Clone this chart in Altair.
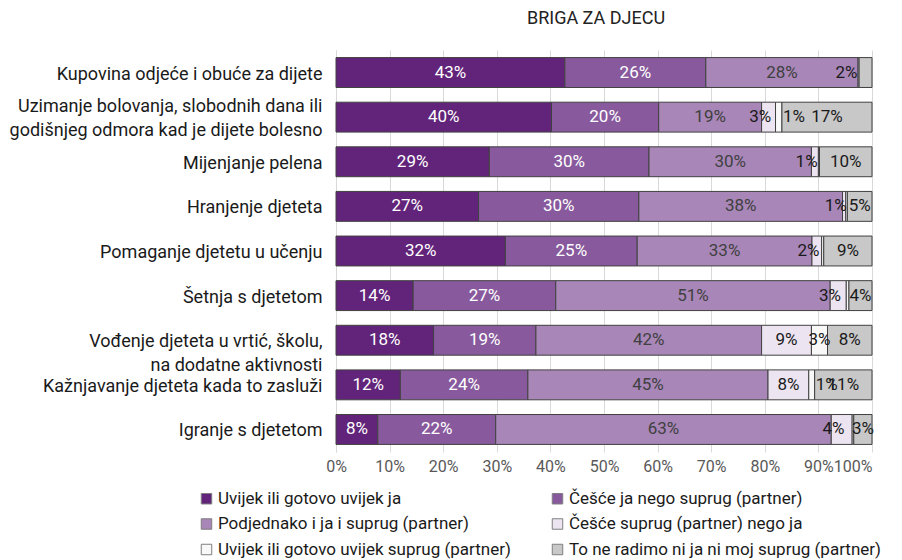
import altair as alt
import pandas as pd

tasks = [
    "Kupovina odjeće i obuće za dijete",
    "Uzimanje bolovanja, slobodnih dana ili\ngodišnjeg odmora kad je dijete bolesno",
    "Mijenjanje pelena",
    "Hranjenje djeteta",
    "Pomaganje djetetu u učenju",
    "Šetnja s djetetom",
    "Vođenje djeteta u vrtić, školu,\nna dodatne aktivnosti",
    "Kažnjavanje djeteta kada to zasluži",
    "Igranje s djetetom",
]

categories = [
    "Uvijek ili gotovo uvijek ja",
    "Češće ja nego suprug (partner)",
    "Podjednako i ja i suprug (partner)",
    "Češće suprug (partner) nego ja",
    "Uvijek ili gotovo uvijek suprug (partner)",
    "To ne radimo ni ja ni moj suprug (partner)",
]

uvijek_ja = [42.7, 40.2, 28.6, 26.6, 31.6, 14.4, 18.2, 12.0, 7.8]
cesce_ja = [26.3, 20.0, 29.8, 29.9, 24.6, 26.6, 19.1, 23.8, 22.0]
podjednako = [28.4, 19.2, 30.3, 38.0, 32.6, 51.2, 42.1, 44.8, 62.6]
cesce_suprug = [0.2, 2.6, 1.3, 0.6, 1.8, 3.0, 9.3, 7.6, 3.9]
uvijek_suprug = [0.0, 1.2, 0.2, 0.3, 0.4, 0.5, 3.0, 1.1, 0.3]
ne_radimo = [2.4, 16.8, 9.8, 4.6, 9.0, 4.3, 8.3, 10.7, 3.4]

colors = ["#62247A", "#885A9D", "#A886B8", "#ECE4F1", "#F8F8F8", "#C8C8C8"]

series = [uvijek_ja, cesce_ja, podjednako, cesce_suprug, uvijek_suprug, ne_radimo]
rows = []
for ci, (cat, vals) in enumerate(zip(categories, series)):
    for ti, (task, v) in enumerate(zip(tasks, vals)):
        rows.append({"task": task, "ti": ti, "cat": cat, "ci": ci, "v": v})
df = pd.DataFrame(rows)

# legend lays entries out column by column; order them so they read row by row
legend_order = [categories[i] for i in (0, 2, 4, 1, 3, 5)]
legend_colors = [colors[i] for i in (0, 2, 4, 1, 3, 5)]

FONT = "Roboto"

base = (
    alt.Chart(df)
    .transform_stack(stack="v", as_=["x0", "x1"], groupby=["task"],
                     sort=[alt.SortField("ci", order="ascending")])
    .transform_calculate(
        mid="(datum.x0 + datum.x1) / 2",
        lab="round(datum.v) + '%'",
        tcol="datum.ci < 2 ? 'white' : (datum.ci == 2 ? '#404040' : '#1a1a1a')",
    )
)

y_enc = alt.Y(
    "task:N",
    sort=tasks,
    title=None,
    scale=alt.Scale(paddingInner=0.33, paddingOuter=0.17),
    axis=alt.Axis(
        labelExpr="split(datum.label, '\\n')",
        labelFontSize=18,
        labelColor="#1a1a1a",
        labelFont=FONT,
        labelLineHeight=24,
        labelPadding=14,
        labelLimit=400,
        labelOffset={"condition": {"test": "indexof(datum.label, 'Uzimanje') == 0", "value": -10}, "value": 2},
        ticks=False,
        domainColor="#d9d9d9",
        grid=False,
    ),
)

bars = base.transform_filter("datum.v > 0").mark_bar(
    stroke="#404040", strokeWidth=1
).encode(
    x=alt.X(
        "x0:Q",
        title=None,
        scale=alt.Scale(domain=[0, 100], nice=False),
        axis=alt.Axis(
            values=[0, 10, 20, 30, 40, 50, 60, 70, 80, 90, 100],
            labelExpr="datum.value + '%'",
            labelFontSize=16,
            labelColor="#595959",
            labelFont=FONT,
            labelAlign={"condition": {"test": "datum.value == 100", "value": "right"}, "value": "center"},
            ticks=False,
            domain=False,
            gridColor="#d9d9d9",
            labelPadding=6,
        ),
    ),
    x2="x1:Q",
    y=y_enc,
    color=alt.Color(
        "cat:N",
        scale=alt.Scale(domain=legend_order, range=legend_colors),
        legend=alt.Legend(
            title=None,
            orient="none",
            legendX=-138,
            legendY=440,
            columns=2,
            symbolType="square",
            symbolSize=110,
            symbolStrokeColor="#7f7f7f",
            symbolStrokeWidth=1,
            labelFontSize=17,
            labelFont=FONT,
            labelColor="#1a1a1a",
            labelLimit=400,
            rowPadding=7.5,
            columnPadding=19,
            symbolOffset=0,
            labelOffset=3,
            gridAlign="all",
        ),
    ),
)

text_center = base.transform_filter(
    "(datum.ci <= 2) || (datum.ci == 3 && datum.v >= 5) || (datum.ci == 4 && datum.v >= 2) || (datum.ci == 5 && datum.v >= 3)"
).mark_text(fontSize=17, font=FONT, align="center", baseline="middle").encode(
    x="mid:Q", y=alt.Y("task:N", sort=tasks), text="lab:N",
    color=alt.Color("tcol:N", scale=None),
)

text_right = base.transform_filter(
    "(datum.ci == 3 && datum.v >= 0.6 && datum.v < 5) || (datum.ci == 5 && datum.v < 3)"
).transform_calculate(
    px="datum.ci == 5 ? datum.x0 - 0.3 : datum.mid + 0.5"
).mark_text(fontSize=17, font=FONT, align="right", baseline="middle").encode(
    x="px:Q", y=alt.Y("task:N", sort=tasks), text="lab:N",
    color=alt.Color("tcol:N", scale=None),
)

text_left = base.transform_filter(
    "datum.ci == 4 && datum.v >= 0.6 && datum.v < 2"
).mark_text(fontSize=17, font=FONT, align="left", baseline="middle", dx=1).encode(
    x="x1:Q", y=alt.Y("task:N", sort=tasks), text="lab:N",
    color=alt.Color("tcol:N", scale=None),
)

chart = (
    alt.layer(bars, text_center, text_right, text_left)
    .resolve_scale(color="independent")
    .properties(
        width=536,
        height=402,
        autosize=alt.AutoSizeParams(type="none"),
        padding={"left": 328, "top": 42, "right": 22, "bottom": 108},
        title=alt.TitleParams(
            "BRIGA ZA DJECU", fontSize=18, font=FONT, fontWeight="normal",
            color="#222222", anchor="middle", offset=22, dx=-8,
        ),
    )
    .configure_view(stroke=None)
)

chart.save("out.html", embed_options={"renderer": "svg", "actions": False})
